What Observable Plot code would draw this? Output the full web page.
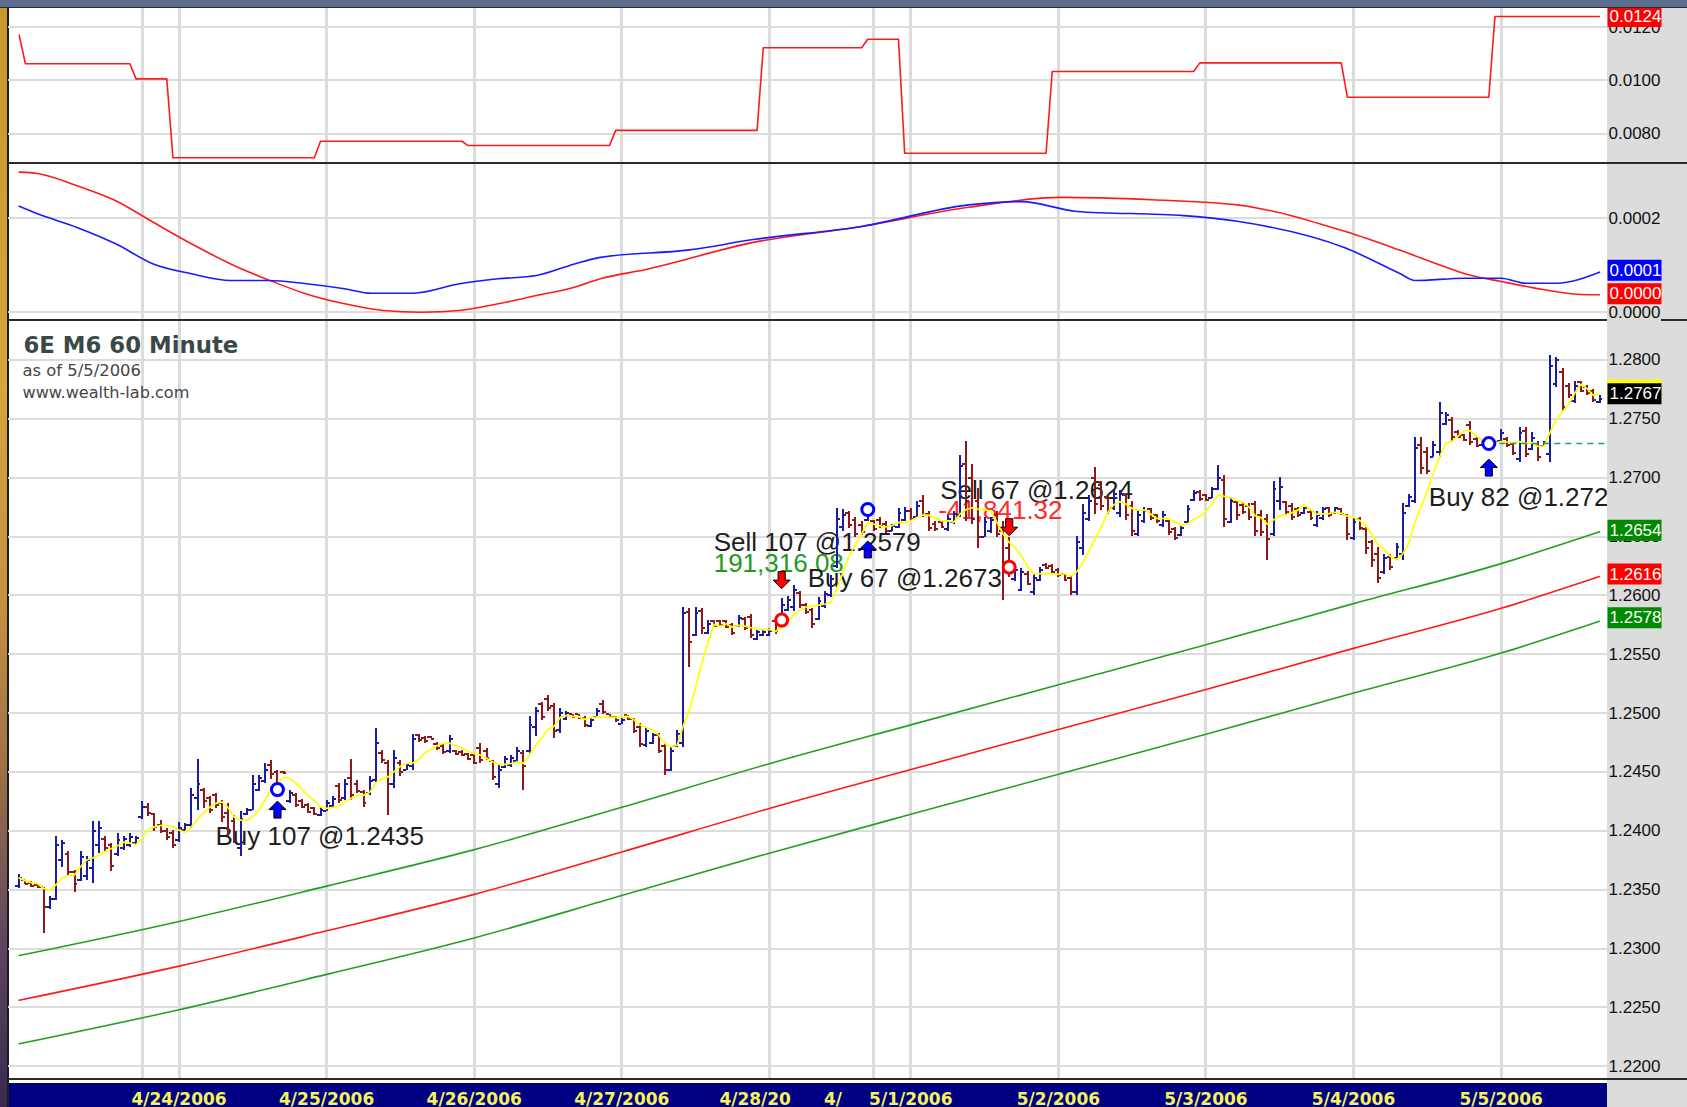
<!DOCTYPE html>
<html><head><meta charset="utf-8">
<script src="https://cdn.jsdelivr.net/npm/d3@7"></script>
<script src="https://cdn.jsdelivr.net/npm/@observablehq/plot@0.6"></script>
<style>
html,body{margin:0;padding:0;background:#fff;}
#root{position:relative;width:1687px;height:1107px;overflow:hidden;background:#fff;}
</style></head><body><div id="root"></div>
<script>
// ---------------- DATA ----------------
// hourly OHLC bars, index 0 = first bar (4/21/2006)
const opens = [
1.2353,1.2358,1.2356,1.2354,1.2352,1.2335,1.2342,1.2375,1.2380,1.2365,
1.2358,1.2362,1.2368,1.2388,1.2393,1.2388,1.2380,1.2385,1.2388,1.2390,
1.2412,1.2420,1.2414,1.2405,1.2400,1.2398,1.2392,1.2401,1.2405,1.2428,
1.2435,1.2428,1.2430,1.2424,1.2415,1.2408,1.2385,1.2414,1.2418,1.2435,
1.2442,1.2456,1.2450,1.2450,1.2425,1.2430,1.2425,1.2422,1.2419,1.2413,
1.2417,1.2421,1.2438,1.2428,1.2445,1.2440,1.2433,1.2432,1.2443,1.2466,
1.2458,1.2440,1.2458,1.2452,1.2455,1.2481,1.2479,1.2480,1.2474,1.2472,
1.2468,1.2468,1.2467,1.2465,1.2464,1.2470,1.2468,1.2459,1.2440,1.2454,
1.2456,1.2459,1.2466,1.2468,1.2488,1.2508,1.2512,1.2506,1.2486,1.2495,
1.2499,1.2499,1.2496,1.2489,1.2497,1.2508,1.2499,1.2497,1.2491,1.2498,
1.2495,1.2488,1.2473,1.2475,1.2481,1.2472,1.2452,1.2472,1.2475,1.2586,
1.2566,1.2587,1.2568,1.2578,1.2578,1.2578,1.2575,1.2574,1.2580,1.2582,
1.2563,1.2566,1.2566,1.2578,1.2575,1.2588,1.2590,1.2602,1.2592,1.2588,
1.2580,1.2591,1.2600,1.2625,1.2658,1.2670,1.2664,1.2660,1.2664,1.2663,
1.2664,1.2661,1.2655,1.2658,1.2664,1.2672,1.2667,1.2680,1.2669,1.2661,
1.2662,1.2656,1.2662,1.2668,1.2712,1.2700,1.2680,1.2650,1.2655,1.2668,
1.2655,1.2640,1.2614,1.2605,1.2618,1.2603,1.2613,1.2626,1.2625,1.2622,
1.2618,1.2615,1.2603,1.2640,1.2665,1.2700,1.2694,1.2684,1.2674,1.2670,
1.2685,1.2676,1.2652,1.2663,1.2673,1.2668,1.2660,1.2663,1.2656,1.2651,
1.2662,1.2681,1.2688,1.2685,1.2683,1.2690,1.2698,1.2662,1.2679,1.2677,
1.2676,1.2678,1.2668,1.2665,1.2652,1.2680,1.2679,1.2676,1.2673,1.2670,
1.2671,1.2660,1.2666,1.2674,1.2670,1.2673,1.2668,1.2649,1.2665,1.2656,
1.2645,1.2635,1.2620,1.2633,1.2632,1.2635,1.2676,1.2680,1.2728,1.2722,
1.2718,1.2722,1.2746,1.2749,1.2739,1.2736,1.2745,1.2733,1.2728,1.2731,
1.2731,1.2731,1.2733,1.2729,1.2716,1.2740,1.2724,1.2729,1.2727,1.2720,
1.2780,1.2790,1.2778,1.2765,1.2781,1.2777,1.2774,1.2764];
const highs = [
1.2363,1.2358,1.2357,1.2354,1.2352,1.2344,1.2395,1.2392,1.2382,1.2366,
1.2382,1.2378,1.2408,1.2408,1.2395,1.2389,1.2398,1.2395,1.2398,1.2395,
1.2425,1.2423,1.2415,1.2409,1.2402,1.2400,1.2407,1.2406,1.2436,1.2461,
1.2436,1.2429,1.2432,1.2426,1.2423,1.2413,1.2416,1.2419,1.2447,1.2447,
1.2457,1.2460,1.2451,1.2450,1.2434,1.2432,1.2427,1.2423,1.2420,1.2420,
1.2426,1.2429,1.2440,1.2444,1.2461,1.2443,1.2434,1.2446,1.2487,1.2468,
1.2460,1.2468,1.2460,1.2457,1.2482,1.2482,1.2480,1.2480,1.2475,1.2474,
1.2481,1.2468,1.2468,1.2466,1.2466,1.2474,1.2470,1.2460,1.2456,1.2463,
1.2464,1.2471,1.2468,1.2497,1.2505,1.2509,1.2515,1.2508,1.2504,1.2501,
1.2499,1.2499,1.2497,1.2495,1.2504,1.2511,1.2499,1.2497,1.2495,1.2498,
1.2495,1.2491,1.2488,1.2483,1.2483,1.2474,1.2471,1.2485,1.2590,1.2589,
1.2590,1.2589,1.2579,1.2579,1.2579,1.2579,1.2576,1.2583,1.2581,1.2584,
1.2570,1.2570,1.2572,1.2579,1.2597,1.2599,1.2608,1.2603,1.2593,1.2589,
1.2598,1.2603,1.2617,1.2674,1.2673,1.2671,1.2666,1.2663,1.2677,1.2664,
1.2666,1.2663,1.2660,1.2674,1.2675,1.2674,1.2680,1.2685,1.2671,1.2663,
1.2663,1.2668,1.2671,1.2719,1.2731,1.2711,1.2691,1.2666,1.2666,1.2671,
1.2663,1.2649,1.2626,1.2623,1.2620,1.2619,1.2624,1.2627,1.2626,1.2623,
1.2619,1.2617,1.2650,1.2677,1.2685,1.2709,1.2697,1.2686,1.2689,1.2689,
1.2686,1.2680,1.2672,1.2675,1.2674,1.2669,1.2671,1.2664,1.2658,1.2659,
1.2676,1.2689,1.2689,1.2686,1.2692,1.2710,1.2702,1.2683,1.2680,1.2679,
1.2678,1.2680,1.2672,1.2669,1.2697,1.2700,1.2680,1.2678,1.2675,1.2675,
1.2672,1.2671,1.2675,1.2675,1.2675,1.2674,1.2669,1.2666,1.2666,1.2658,
1.2647,1.2641,1.2635,1.2635,1.2644,1.2678,1.2686,1.2734,1.2734,1.2726,
1.2731,1.2764,1.2755,1.2751,1.2740,1.2737,1.2748,1.2734,1.2731,1.2731,
1.2731,1.2741,1.2734,1.2730,1.2743,1.2743,1.2738,1.2731,1.2731,1.2804,
1.2802,1.2793,1.2780,1.2782,1.2782,1.2778,1.2775,1.2770];
const lows = [
1.2351,1.2354,1.2352,1.2351,1.2313,1.2333,1.2341,1.2369,1.2362,1.2348,
1.2357,1.2358,1.2355,1.2381,1.2382,1.2365,1.2378,1.2383,1.2386,1.2389,
1.2410,1.2412,1.2399,1.2398,1.2392,1.2385,1.2390,1.2400,1.2402,1.2417,
1.2419,1.2415,1.2419,1.2407,1.2395,1.2389,1.2378,1.2413,1.2417,1.2433,
1.2440,1.2444,1.2437,1.2448,1.2423,1.2420,1.2419,1.2415,1.2413,1.2412,
1.2416,1.2420,1.2423,1.2426,1.2426,1.2432,1.2420,1.2430,1.2441,1.2457,
1.2413,1.2436,1.2446,1.2451,1.2451,1.2475,1.2474,1.2478,1.2468,1.2465,
1.2466,1.2464,1.2463,1.2460,1.2456,1.2457,1.2460,1.2443,1.2436,1.2453,
1.2454,1.2457,1.2434,1.2466,1.2480,1.2494,1.2501,1.2478,1.2483,1.2494,
1.2497,1.2495,1.2488,1.2488,1.2497,1.2499,1.2497,1.2492,1.2490,1.2494,
1.2483,1.2471,1.2471,1.2473,1.2466,1.2447,1.2450,1.2471,1.2471,1.2539,
1.2565,1.2567,1.2567,1.2573,1.2573,1.2572,1.2566,1.2573,1.2570,1.2563,
1.2562,1.2565,1.2565,1.2567,1.2573,1.2586,1.2586,1.2589,1.2584,1.2572,
1.2579,1.2589,1.2598,1.2623,1.2654,1.2657,1.2649,1.2651,1.2663,1.2654,
1.2657,1.2653,1.2654,1.2657,1.2663,1.2663,1.2666,1.2666,1.2654,1.2654,
1.2657,1.2654,1.2660,1.2666,1.2663,1.2660,1.2640,1.2649,1.2653,1.2649,
1.2596,1.2615,1.2612,1.2603,1.2608,1.2600,1.2612,1.2622,1.2619,1.2615,
1.2612,1.2600,1.2600,1.2634,1.2663,1.2669,1.2672,1.2669,1.2672,1.2666,
1.2664,1.2650,1.2650,1.2661,1.2664,1.2661,1.2658,1.2651,1.2647,1.2650,
1.2661,1.2680,1.2680,1.2680,1.2682,1.2689,1.2658,1.2661,1.2664,1.2669,
1.2664,1.2650,1.2650,1.2630,1.2650,1.2672,1.2669,1.2664,1.2666,1.2669,
1.2664,1.2658,1.2664,1.2666,1.2669,1.2668,1.2647,1.2647,1.2655,1.2635,
1.2624,1.2610,1.2618,1.2621,1.2630,1.2630,1.2675,1.2678,1.2703,1.2703,
1.2717,1.2717,1.2744,1.2731,1.2734,1.2731,1.2727,1.2726,1.2727,1.2729,
1.2730,1.2730,1.2726,1.2719,1.2713,1.2717,1.2723,1.2714,1.2727,1.2713,
1.2777,1.2756,1.2767,1.2763,1.2772,1.2770,1.2764,1.2763];
const closes = [
1.2360,1.2355,1.2353,1.2352,1.2335,1.2342,1.2388,1.2390,1.2365,1.2355,
1.2378,1.2375,1.2400,1.2402,1.2385,1.2370,1.2392,1.2393,1.2395,1.2394,
1.2420,1.2415,1.2403,1.2400,1.2395,1.2388,1.2402,1.2405,1.2430,1.2440,
1.2425,1.2418,1.2422,1.2412,1.2400,1.2392,1.2410,1.2418,1.2440,1.2445,
1.2452,1.2448,1.2440,1.2449,1.2432,1.2422,1.2420,1.2416,1.2414,1.2418,
1.2424,1.2427,1.2426,1.2440,1.2430,1.2434,1.2424,1.2442,1.2475,1.2460,
1.2440,1.2462,1.2450,1.2456,1.2478,1.2477,1.2476,1.2478,1.2470,1.2467,
1.2478,1.2465,1.2464,1.2461,1.2458,1.2460,1.2462,1.2446,1.2452,1.2461,
1.2462,1.2468,1.2455,1.2490,1.2502,1.2497,1.2504,1.2485,1.2500,1.2500,
1.2497,1.2496,1.2490,1.2494,1.2502,1.2501,1.2497,1.2494,1.2494,1.2495,
1.2485,1.2474,1.2485,1.2481,1.2468,1.2452,1.2468,1.2482,1.2585,1.2560,
1.2585,1.2572,1.2576,1.2574,1.2575,1.2573,1.2568,1.2581,1.2572,1.2566,
1.2569,1.2569,1.2570,1.2570,1.2592,1.2596,1.2605,1.2592,1.2586,1.2576,
1.2595,1.2601,1.2614,1.2665,1.2668,1.2660,1.2652,1.2654,1.2673,1.2656,
1.2659,1.2655,1.2659,1.2670,1.2672,1.2665,1.2676,1.2668,1.2657,1.2656,
1.2658,1.2665,1.2669,1.2710,1.2680,1.2665,1.2650,1.2662,1.2664,1.2652,
1.2620,1.2622,1.2622,1.2620,1.2610,1.2615,1.2622,1.2623,1.2620,1.2617,
1.2613,1.2603,1.2645,1.2670,1.2680,1.2678,1.2676,1.2672,1.2686,1.2686,
1.2668,1.2655,1.2668,1.2672,1.2666,1.2663,1.2668,1.2654,1.2649,1.2657,
1.2673,1.2687,1.2682,1.2681,1.2690,1.2700,1.2665,1.2680,1.2668,1.2671,
1.2667,1.2655,1.2654,1.2648,1.2690,1.2692,1.2671,1.2667,1.2668,1.2674,
1.2666,1.2668,1.2673,1.2668,1.2674,1.2669,1.2652,1.2662,1.2657,1.2640,
1.2630,1.2615,1.2632,1.2624,1.2641,1.2670,1.2684,1.2725,1.2708,1.2706,
1.2728,1.2755,1.2753,1.2735,1.2735,1.2732,1.2730,1.2727,1.2730,1.2729,
1.2730,1.2738,1.2728,1.2721,1.2738,1.2720,1.2734,1.2718,1.2730,1.2795,
1.2800,1.2760,1.2770,1.2778,1.2774,1.2772,1.2766,1.2767];

// day separators (bar index of first bar of each date) and date labels
const dayIdx = [20, 26, 50, 74, 98, 122, 139, 145, 169, 193, 217, 241];
const dateIdx = [26, 50, 74, 98, 145, 169, 193, 217, 241];
const dateLabels = ["4/24/2006","4/25/2006","4/26/2006","4/27/2006","5/1/2006","5/2/2006","5/3/2006","5/4/2006","5/5/2006"];
const cutDateIdx = [122, 139];
const cutDateLabels = ["4/28/20", "4/"];

// price channel (upper / middle / lower)
const chanIdx   = [0, 26, 50, 74, 98, 122, 145, 169, 193, 217, 241, 257];
const chanUpper = [1.2294,1.2323,1.2353,1.2384,1.2420,1.2457,1.2490,1.2524,1.2558,1.2593,1.2627,1.2654];
const chanMid   = [1.2256,1.2285,1.2315,1.2346,1.2382,1.2419,1.2452,1.2486,1.2520,1.2555,1.2589,1.2616];
const chanLower = [1.2219,1.2248,1.2278,1.2309,1.2345,1.2381,1.2414,1.2448,1.2482,1.2517,1.2551,1.2578];

// top pane: stepped indicator (value changes at these bars)
const atrIdx = [0, 1, 19, 25, 49, 73, 97, 121, 138, 144, 168, 192, 216, 240];
const atrVal = [0.0117,0.01063,0.01006,0.0071,0.00772,0.00756,0.00813,0.01123,0.01155,0.00727,0.01034,0.01066,0.00937,0.0124];
const atrTicks = [0.008, 0.010, 0.012];

// middle pane: two oscillator lines
const blueIdx = [0,3,9.4,15.7,21.8,28,34.4,40.5,46.7,52.9,57.3,64.1,71.6,77.9,84.1,90.3,94.5,109,119.4,137,154.4,163,172,189.4,198.1,215.7,224.6,227,235,241,245,250,257];
const blueVal = [0.000226,0.00021,0.000181,0.000146,0.000103,0.000082,0.0000677,0.0000677,0.0000606,0.00005,0.0000405,0.0000405,0.0000606,0.0000713,0.0000783,0.000103,0.000117,0.000133,0.000155,0.000183,0.000229,0.000236,0.000215,0.000206,0.000194,0.000137,0.000082,0.0000676,0.0000726,0.0000726,0.0000619,0.0000619,0.0000854];
const redIdx = [0,3,9.4,15.7,21.8,28,34.4,40.5,46.7,52.9,59.2,65.4,71.6,77.9,84.1,90.3,94.5,101.9,119.4,137,154.4,169.4,184.2,198.1,215.7,224.6,233.1,235.7,241,246.3,253.9,257];
const redVal = [0.000299,0.000296,0.00027,0.000238,0.000192,0.000146,0.000103,0.000069,0.000039,0.000018,0.0000036,0.0,0.0000036,0.000018,0.0000356,0.0000534,0.0000713,0.0000911,0.000149,0.000183,0.000224,0.000245,0.00024,0.000229,0.000172,0.000132,0.0000911,0.0000798,0.0000655,0.000052,0.0000378,0.0000371];
const oscTicks = [0, 0.0002];

const priceTicks = [1.22,1.225,1.23,1.235,1.24,1.245,1.25,1.255,1.26,1.265,1.27,1.275,1.28];

// trades
const tradeBar    = [42, 124, 138, 161, 239];
const tradePrice  = [1.2435, 1.2579, 1.2673, 1.2624, 1.2729];
const tradeSide   = ["Buy", "Sell", "Buy", "Sell", "Buy"];
const tradeShares = [107, 107, 67, 67, 82];
const tradeProfit = [null, "191,316.08", null, "-41,841.32", null];

const title = "6E M6 60 Minute";
const subtitle = "as of 5/5/2006";
const site = "www.wealth-lab.com";

// ---------------- LAYOUT ----------------
const root = document.getElementById("root");
function addDiv(css) { const d = document.createElement("div"); d.style.cssText = "position:absolute;" + css; root.appendChild(d); return d; }

addDiv("left:1607px;top:7px;width:80px;height:1100px;background:#dcdcdc;");
addDiv("left:8px;top:1083px;width:1599px;height:24px;background:#000080;");
addDiv("left:0;top:0;width:7px;height:1107px;background:linear-gradient(to bottom,#c8962f 0%,#d6a53e 35%,#c39040 55%,#9a7048 70%,#5e4660 85%,#382a4e 100%);");
addDiv("left:7px;top:7px;width:1.5px;height:1100px;background:#1c1c1c;");
addDiv("left:0;top:0;width:1687px;height:7px;background:#5b6e8e;");
addDiv("left:0;top:6.5px;width:1687px;height:1px;background:#2a2a2a;");

const xDomain = [-1.74, 258.3];
const GRID = "#dcdcdc";
const TICKFONT = "Liberation Sans, Arial, sans-serif";
const upC = "#1c1ca0", dnC = "#8c1a1a";

const boxSym = {draw(c) { c.moveTo(-27, -10.5); c.lineTo(27, -10.5); c.lineTo(27, 10.5); c.lineTo(-27, 10.5); c.closePath(); }};
const upArrow = {draw(c) { const s = 8.5; c.moveTo(0, -s); c.lineTo(s, 0); c.lineTo(0.42*s, 0); c.lineTo(0.42*s, s); c.lineTo(-0.42*s, s); c.lineTo(-0.42*s, 0); c.lineTo(-s, 0); c.closePath(); }};
const dnArrow = {draw(c) { const s = 8.5; c.moveTo(0, s); c.lineTo(s, 0); c.lineTo(0.42*s, 0); c.lineTo(0.42*s, -s); c.lineTo(-0.42*s, -s); c.lineTo(-0.42*s, 0); c.lineTo(-s, 0); c.closePath(); }};

function tickLabels(ticks) {
  return Plot.text(ticks, {y: d => d, text: d => d.toFixed(4), frameAnchor: "right", dx: 1, textAnchor: "start",
    fontSize: 17, fontFamily: TICKFONT, fill: "#111"});
}
function valueBox(v, fill, dy = 0) {
  return [
    Plot.dot([v], {y: d => d, frameAnchor: "right", dx: 27, dy, symbol: boxSym, r: 10, fill, stroke: "none"}),
    Plot.text([v], {y: d => d, text: d => d.toFixed(4), frameAnchor: "right", dx: 2, dy, textAnchor: "start",
      fontSize: 17, fontFamily: TICKFONT, fill: "white"})
  ];
}
function pane(top, height, marginBottom, yDomain, marks) {
  const svg = Plot.plot({
    width: 1679, height, marginLeft: 0, marginRight: 80, marginTop: 0, marginBottom,
    x: {domain: xDomain, axis: null},
    y: {domain: yDomain, axis: null},
    style: {background: "transparent", fontFamily: TICKFONT, fontSize: "17px"},
    marks
  });
  svg.style.position = "absolute";
  svg.style.left = "8px";
  svg.style.top = top + "px";
  svg.style.maxWidth = "none";
  root.appendChild(svg);
  return svg;
}

// ---------- pane 1 ----------
const lastBar = opens.length - 1;
const atrPts = [];
atrIdx.forEach((i, k) => {
  const next = k + 1 < atrIdx.length ? atrIdx[k + 1] - 1 : lastBar;
  atrPts.push({i, v: atrVal[k]});
  if (next > i) atrPts.push({i: next, v: atrVal[k]});
});
pane(8, 155, 0, [0.006886, 0.012701], [
  Plot.ruleX(dayIdx, {x: d => d, stroke: GRID, strokeWidth: 3, shapeRendering: "crispEdges"}),
  Plot.ruleY(atrTicks, {y: d => d, stroke: GRID, strokeWidth: 2, shapeRendering: "crispEdges"}),
  Plot.line(atrPts, {x: "i", y: "v", stroke: "#ff1a1a", strokeWidth: 1.6}),
  tickLabels(atrTicks),
  ...valueBox(atrVal[atrVal.length - 1], "#ff0000")
]);

// ---------- pane 2 ----------
const bluePts = blueIdx.map((i, k) => ({i, v: blueVal[k]}));
const redPts = redIdx.map((i, k) => ({i, v: redVal[k]}));
pane(163, 157, 0, [-0.0000177, 0.00031733], [
  Plot.ruleX(dayIdx, {x: d => d, stroke: GRID, strokeWidth: 3, shapeRendering: "crispEdges"}),
  Plot.ruleY(oscTicks, {y: d => d, stroke: GRID, strokeWidth: 2, shapeRendering: "crispEdges"}),
  Plot.line(redPts, {x: "i", y: "v", stroke: "#ff1a1a", strokeWidth: 1.6, curve: "monotone-x"}),
  Plot.line(bluePts, {x: "i", y: "v", stroke: "#1a1aff", strokeWidth: 1.6, curve: "monotone-x"}),
  tickLabels(oscTicks),
  ...valueBox(blueVal[blueVal.length - 1], "#0000ff", -2),
  ...valueBox(redVal[redVal.length - 1], "#ff0000", -1)
]);

// ---------- pane 3 ----------
const bars = opens.map((o, i) => ({i, open: o, high: highs[i], low: lows[i], close: closes[i]}));
const barColor = d => d.close >= d.open ? upC : dnC;
const chan = chanIdx.map((i, k) => ({i, u: chanUpper[k], m: chanMid[k], l: chanLower[k]}));
const trades = tradeBar.map((b, k) => ({i: b, p: tradePrice[k], side: tradeSide[k], n: tradeShares[k], profit: tradeProfit[k]}));
// annotation offsets in pixels (layout only)
const labelDx  = [-62, -68, -60, -69, -60];
const labelDy  = [55.7, -69.3, 77.3, -67.7, 62.2];
const profitDx = [0, -68, 0, -71, 0];
const profitDy = [0, -48.3, 0, -47.7, 0];
const arrowDy  = [20, -40, 40, -40, 24];

const textMarks = [], markerMarks = [];
trades.forEach((t, k) => {
  const col = t.side === "Buy" ? "#0000ff" : "#ff0000";
  textMarks.push(Plot.text([t], {x: "i", y: "p", dx: labelDx[k], dy: labelDy[k], text: d => `${d.side} ${d.n} @${d.p.toFixed(4)}`,
    textAnchor: "start", lineAnchor: "bottom", fontSize: 26, fontFamily: TICKFONT, fill: "#1e1e1e", clip: true}));
  if (t.profit) {
    textMarks.push(Plot.text([t], {x: "i", y: "p", dx: profitDx[k], dy: profitDy[k], text: d => d.profit,
      textAnchor: "start", lineAnchor: "bottom", fontSize: 26, fontFamily: TICKFONT,
      fill: t.profit.startsWith("-") ? "#ff2b2b" : "#1f9a1f", clip: true}));
  }
  markerMarks.push(Plot.dot([t], {x: "i", y: "p", r: 6, stroke: col, strokeWidth: 3, fill: "white"}));
  markerMarks.push(Plot.dot([t], {x: "i", y: "p", dy: arrowDy[k], symbol: t.side === "Buy" ? upArrow : dnArrow, r: 8, fill: col, stroke: "#000", strokeWidth: 1}));
});
const openTrade = trades[trades.length - 1];
const maLast = d3.mean(closes.slice(-6));

const p3 = pane(320, 787, 29, [1.218955, 1.283356], [
  Plot.ruleX(dayIdx, {x: d => d, stroke: GRID, strokeWidth: 3, shapeRendering: "crispEdges"}),
  Plot.ruleY(priceTicks, {y: d => d, stroke: GRID, strokeWidth: 2, shapeRendering: "crispEdges"}),
  Plot.line(chan, {x: "i", y: "u", stroke: "#22a022", strokeWidth: 1.6, curve: "monotone-x"}),
  Plot.line(chan, {x: "i", y: "m", stroke: "#ff1a1a", strokeWidth: 1.6, curve: "monotone-x"}),
  Plot.line(chan, {x: "i", y: "l", stroke: "#22a022", strokeWidth: 1.6, curve: "monotone-x"}),
  Plot.text([title], {text: d => d, frameAnchor: "top-left", dx: 15, dy: 32, lineAnchor: "bottom", textAnchor: "start",
    fontSize: 22.8, fontWeight: "bold", fontFamily: "DejaVu Sans", fill: "#3a4848"}),
  Plot.text([subtitle], {text: d => d, frameAnchor: "top-left", dx: 14, dy: 55, lineAnchor: "bottom", textAnchor: "start",
    fontSize: 16.4, fontFamily: "DejaVu Sans", fill: "#454545"}),
  Plot.text([site], {text: d => d, frameAnchor: "top-left", dx: 14, dy: 77, lineAnchor: "bottom", textAnchor: "start",
    fontSize: 16.1, fontFamily: "DejaVu Sans", fill: "#454545"}),
  ...textMarks,
  Plot.ruleX(bars, {x: "i", y1: "low", y2: "high", stroke: barColor, strokeWidth: 2, shapeRendering: "crispEdges"}),
  Plot.ruleY(bars, {y: "open", x1: d => d.i - 0.55, x2: "i", stroke: barColor, strokeWidth: 2, shapeRendering: "crispEdges"}),
  Plot.ruleY(bars, {y: "close", x1: "i", x2: d => d.i + 0.55, stroke: barColor, strokeWidth: 2, shapeRendering: "crispEdges"}),
  Plot.lineY(bars, Plot.windowY({k: 6, anchor: "end", reduce: "mean"}, {x: "i", y: "close", stroke: "#ffff00", strokeWidth: 1.7})),
  Plot.ruleY([openTrade], {y: "p", x1: "i", x2: () => xDomain[1], stroke: "#1a9c9c", strokeWidth: 1.5, strokeDasharray: "6,5"}),
  ...markerMarks,
  tickLabels(priceTicks),
  ...valueBox(chanUpper[chanUpper.length - 1], "#008a00", -1.5),
  ...valueBox(chanMid[chanMid.length - 1], "#ff0000", -2.5),
  ...valueBox(chanLower[chanLower.length - 1], "#008a00", -3.5),
  ...valueBox(maLast, "#ffff00", -4),
  ...valueBox(closes[lastBar], "#000000", -5),
  Plot.text(dateIdx.map((i, k) => ({i, t: dateLabels[k]})), {x: "i", text: "t", frameAnchor: "bottom", dy: 26, lineAnchor: "bottom",
    textAnchor: "middle", fontSize: 17, fontWeight: "bold", fontFamily: "DejaVu Sans", fill: "#f4f45a", ariaLabel: "datelabels"}),
  Plot.text(cutDateIdx.map((i, k) => ({i, t: cutDateLabels[k]})), {x: "i", text: "t", frameAnchor: "bottom", dy: 26, dx: -50, lineAnchor: "bottom",
    textAnchor: "start", fontSize: 17, fontWeight: "bold", fontFamily: "DejaVu Sans", fill: "#f4f45a", ariaLabel: "datelabels"})
]);
d3.select(p3).selectAll('g[aria-label="datelabels"] text').style("letter-spacing", "0.6px");

// pane dividers
addDiv("left:8px;top:162px;width:1679px;height:2px;background:#2b2b2b;");
addDiv("left:8px;top:318.5px;width:1599px;height:2px;background:#2b2b2b;");
addDiv("left:1661px;top:318.5px;width:26px;height:2px;background:#2b2b2b;");
addDiv("left:8px;top:1077.5px;width:1679px;height:2px;background:#2b2b2b;");
</script></body></html>
